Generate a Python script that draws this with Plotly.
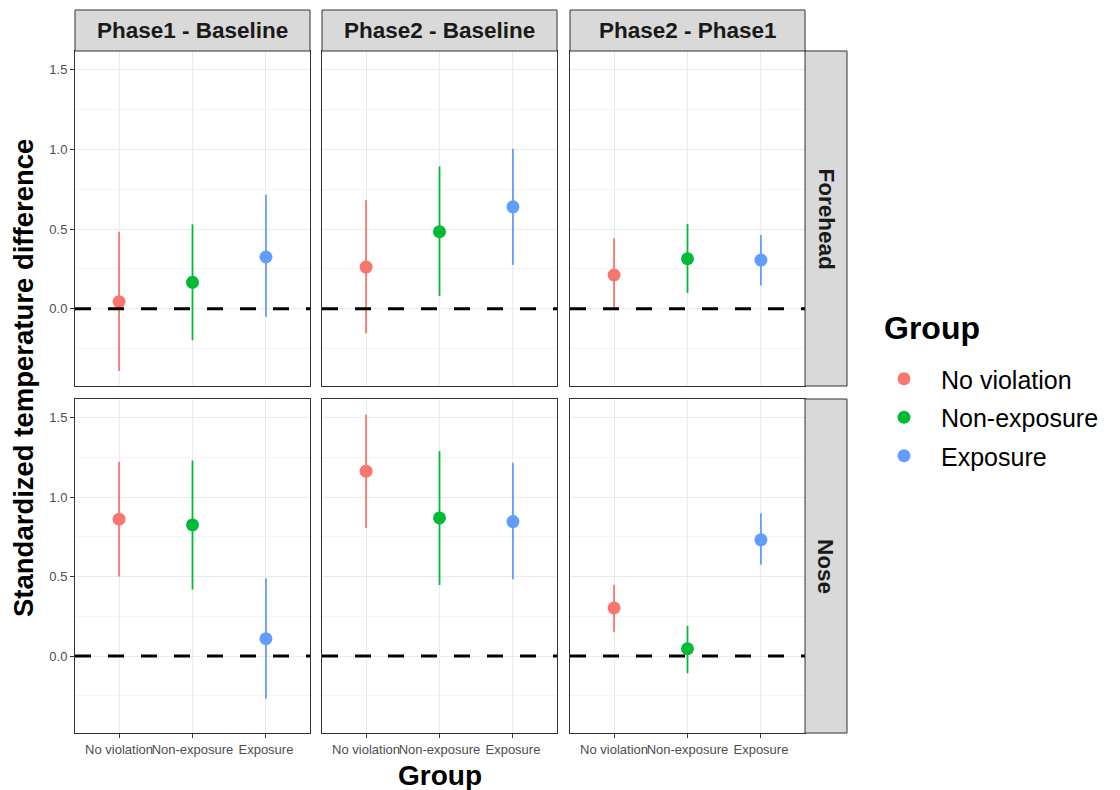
import plotly.graph_objects as go

# ---------------- data ----------------
groups = ["No violation", "Non-exposure", "Exposure"]
contrasts = ["Phase1 - Baseline", "Phase2 - Baseline", "Phase2 - Phase1"]
regions = ["Forehead", "Nose"]

# Forehead
fh_p1b_est = [0.045, 0.166, 0.325]
fh_p1b_lo = [-0.390, -0.197, -0.050]
fh_p1b_hi = [0.484, 0.530, 0.715]
fh_p2b_est = [0.262, 0.484, 0.640]
fh_p2b_lo = [-0.153, 0.080, 0.275]
fh_p2b_hi = [0.682, 0.893, 1.004]
fh_p2p1_est = [0.212, 0.314, 0.306]
fh_p2p1_lo = [0.000, 0.100, 0.147]
fh_p2p1_hi = [0.443, 0.533, 0.463]

# Nose
no_p1b_est = [0.861, 0.825, 0.109]
no_p1b_lo = [0.500, 0.418, -0.267]
no_p1b_hi = [1.222, 1.230, 0.490]
no_p2b_est = [1.163, 0.869, 0.846]
no_p2b_lo = [0.806, 0.447, 0.483]
no_p2b_hi = [1.520, 1.289, 1.216]
no_p2p1_est = [0.303, 0.046, 0.731]
no_p2p1_lo = [0.150, -0.108, 0.574]
no_p2p1_hi = [0.449, 0.190, 0.898]

y_ticks = [0.0, 0.5, 1.0, 1.5]
ref_value = 0.0

colors = ["#F8766D", "#00BA38", "#619CFF"]

panels = {
    ("Forehead", 0): (fh_p1b_est, fh_p1b_lo, fh_p1b_hi),
    ("Forehead", 1): (fh_p2b_est, fh_p2b_lo, fh_p2b_hi),
    ("Forehead", 2): (fh_p2p1_est, fh_p2p1_lo, fh_p2p1_hi),
    ("Nose", 0): (no_p1b_est, no_p1b_lo, no_p1b_hi),
    ("Nose", 1): (no_p2b_est, no_p2b_lo, no_p2b_hi),
    ("Nose", 2): (no_p2p1_est, no_p2p1_lo, no_p2p1_hi),
}

# ---------------- layout geometry (screen pixels) ----------------
OFF = 8                      # page body margin
W, H = 1120 - OFF, 790 - OFF
col_px = [(75, 310), (322, 557), (570, 805)]
row_px = [(51, 386), (399, 733)]
strip_top = (10, 51)
strip_right = (805, 847)


def px(xs):
    return (xs - OFF) / W


def py(ys):
    return 1 - (ys - OFF) / H


FONT = "Liberation Sans, Arial, sans-serif"
GRID = "#EBEBEB"
MINOR = "#F4F4F4"
BORDER = "#333333"

fig = go.Figure()
layout = dict(
    width=W, height=H, margin=dict(l=0, r=0, t=0, b=0),
    paper_bgcolor="white", plot_bgcolor="white",
    font=dict(family=FONT, color="#000000"),
    showlegend=True,
)
shapes = []
annotations = []

xpos = [1, 2, 3]
for r, region in enumerate(regions):
    for c in range(3):
        idx = r * 3 + c + 1
        xa = "xaxis" if idx == 1 else f"xaxis{idx}"
        ya = "yaxis" if idx == 1 else f"yaxis{idx}"
        xr = "x" if idx == 1 else f"x{idx}"
        yr = "y" if idx == 1 else f"y{idx}"
        x0p, x1p = col_px[c]
        y0p, y1p = row_px[r]
        layout[xa] = dict(
            domain=[px(x0p), px(x1p)], anchor=yr,
            range=[0.4, 3.6], tickvals=xpos, ticktext=groups, tickangle=0,
            showgrid=True, gridcolor=GRID, gridwidth=1.1, zeroline=False,
            showline=True, linecolor=BORDER, linewidth=1, mirror=True,
            ticks="outside" if r == 1 else "", ticklen=4, tickcolor=BORDER,
            showticklabels=(r == 1),
            tickfont=dict(size=13, color="#4D4D4D", family=FONT),
            fixedrange=True,
        )
        layout[ya] = dict(
            domain=[py(y1p), py(y0p)], anchor=xr,
            range=[-0.484, 1.617], tickvals=y_ticks, tickformat=".1f",
            showgrid=True, gridcolor=GRID, gridwidth=1.1, zeroline=False,
            minor=dict(dtick=0.25, tick0=0.25, showgrid=True, gridcolor=MINOR, gridwidth=1, ticks=""),
            showline=True, linecolor=BORDER, linewidth=1, mirror=True,
            ticks="outside" if c == 0 else "", ticklen=4, tickcolor=BORDER,
            showticklabels=(c == 0),
            tickfont=dict(size=13, color="#4D4D4D", family=FONT),
            fixedrange=True,
        )
        est, lo, hi = panels[(region, c)]
        for g in range(3):
            fig.add_trace(go.Scatter(
                x=[xpos[g]], y=[est[g]], mode="markers",
                marker=dict(size=13, color=colors[g]),
                error_y=dict(type="data", symmetric=False,
                             array=[hi[g] - est[g]], arrayminus=[est[g] - lo[g]],
                             color=colors[g], thickness=1.8, width=0),
                name=groups[g], legendgroup=groups[g],
                showlegend=(idx == 1),
                xaxis=xr, yaxis=yr,
            ))
        # dashed reference line
        shapes.append(dict(type="line", xref=f"{xr} domain", yref=yr,
                           x0=0, x1=1, y0=ref_value, y1=ref_value,
                           line=dict(color="black", width=3, dash="16px,17px"),
                           layer="above"))

# top strips
for c in range(3):
    x0p, x1p = col_px[c]
    shapes.append(dict(type="rect", xref="paper", yref="paper",
                       x0=px(x0p), x1=px(x1p),
                       y0=py(strip_top[1]), y1=py(strip_top[0]),
                       fillcolor="#D9D9D9", line=dict(color=BORDER, width=1)))
    annotations.append(dict(xref="paper", yref="paper",
                            x=px((x0p + x1p) / 2), y=py((strip_top[0] + strip_top[1]) / 2),
                            text=f"<b>{contrasts[c]}</b>", showarrow=False,
                            font=dict(size=22.5, color="#1A1A1A", family=FONT),
                            xanchor="center", yanchor="middle"))
# right strips
for r in range(2):
    y0p, y1p = row_px[r]
    shapes.append(dict(type="rect", xref="paper", yref="paper",
                       x0=px(strip_right[0]), x1=px(strip_right[1]),
                       y0=py(y1p), y1=py(y0p),
                       fillcolor="#D9D9D9", line=dict(color=BORDER, width=1)))
    annotations.append(dict(xref="paper", yref="paper",
                            x=px((strip_right[0] + strip_right[1]) / 2), y=py((y0p + y1p) / 2),
                            text=f"<b>{regions[r]}</b>", showarrow=False, textangle=90,
                            font=dict(size=22.5, color="#1A1A1A", family=FONT),
                            xanchor="center", yanchor="middle"))

# axis titles
annotations.append(dict(xref="paper", yref="paper", x=px(23), y=py(378),
                        text="<b>Standardized temperature difference</b>", showarrow=False,
                        textangle=-90, font=dict(size=27.5, color="black", family=FONT),
                        xanchor="center", yanchor="middle"))
annotations.append(dict(xref="paper", yref="paper", x=px(440), y=py(775),
                        text="<b>Group</b>", showarrow=False,
                        font=dict(size=28, color="black", family=FONT),
                        xanchor="center", yanchor="middle"))
# legend title
annotations.append(dict(xref="paper", yref="paper", x=px(882), y=py(328),
                        text="<b>Group</b>", showarrow=False,
                        font=dict(size=32, color="black", family=FONT),
                        xanchor="left", yanchor="middle"))

layout["shapes"] = shapes
layout["annotations"] = annotations
layout["legend"] = dict(
    x=px(867), y=py(356), xanchor="left", yanchor="top",
    font=dict(size=25, family=FONT, color="black"),
    traceorder="grouped", tracegroupgap=3, itemwidth=64,
    bgcolor="rgba(0,0,0,0)", borderwidth=0,
)
fig.update_layout(**layout)
fig.write_html("out.html")
